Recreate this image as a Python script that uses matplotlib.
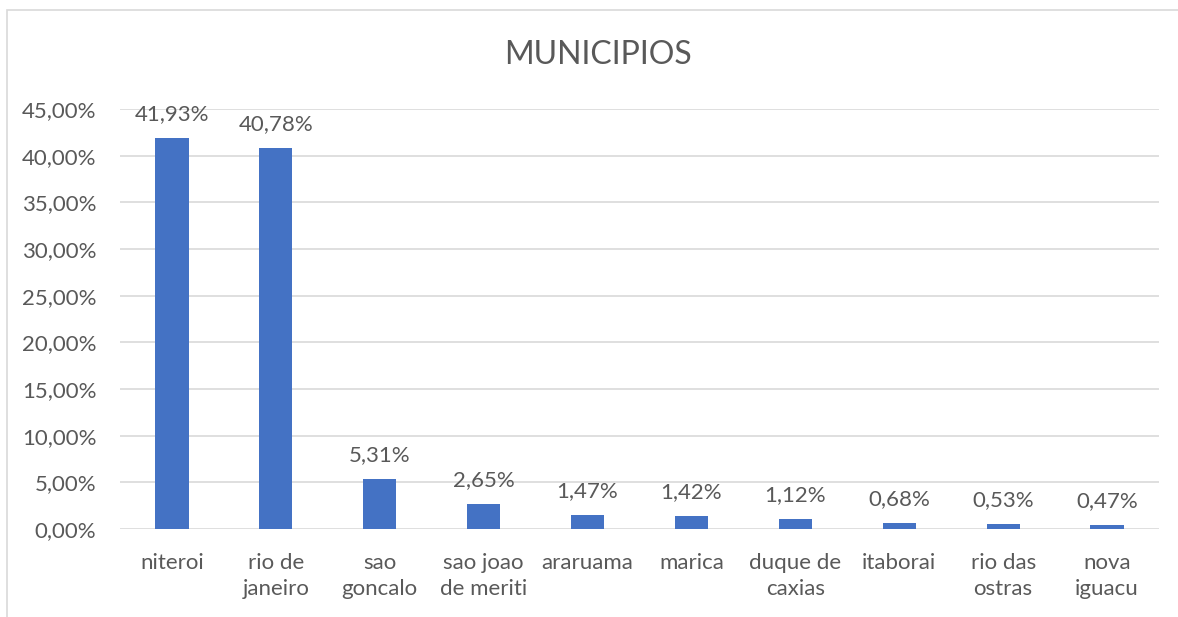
import matplotlib.pyplot as plt
from matplotlib.patches import Rectangle

plt.rcParams['font.family'] = ['Lato', 'DejaVu Sans']

municipios = ['niteroi', 'rio de\njaneiro', 'sao\ngoncalo', 'sao joao\nde meriti',
              'araruama', 'marica', 'duque de\ncaxias', 'itaborai',
              'rio das\nostras', 'nova\niguacu']
percentuais = [41.93, 40.78, 5.31, 2.65, 1.47, 1.42, 1.12, 0.68, 0.53, 0.47]
yticks = [0, 5, 10, 15, 20, 25, 30, 35, 40, 45]

TXT = '#595959'
BAR = '#4472C4'
GRID = '#D9D9D9'

fig = plt.figure(figsize=(11.78, 6.17), dpi=100)
ax = fig.add_axes([120/1178, 1 - 529/617, (1159 - 120)/1178, (529 - 109)/617])

x = range(len(municipios))
ax.bar(x, percentuais, width=0.32, color=BAR, zorder=3)

for xi, v in zip(x, percentuais):
    ax.annotate(f'{v:.2f}%'.replace('.', ','), (xi, v), xytext=(0, 10),
                textcoords='offset points', ha='center', va='bottom',
                fontsize=16, color=TXT)

ax.set_xlim(-0.5, len(municipios) - 0.5)
ax.set_ylim(0, 45)
ax.set_yticks(yticks)
ax.set_yticklabels([f'{t:.2f}%'.replace('.', ',') for t in yticks])
ax.set_xticks(list(x))
ax.set_xticklabels(municipios, linespacing=1.4)
ax.tick_params(axis='both', length=0, labelsize=16, colors=TXT)
ax.tick_params(axis='x', pad=17)
ax.tick_params(axis='y', pad=17)
ax.grid(axis='y', color=GRID, linewidth=1.2, zorder=0)
for s in ax.spines.values():
    s.set_visible(False)

fig.text(598/1178, 1 - 55/617, 'MUNICIPIOS', ha='center', va='center',
         fontsize=23, color=TXT)

# chart border
fig.patches.append(Rectangle((7/1178, -0.1), 1.2, 1 - 10/617 + 0.1,
                             transform=fig.transFigure, fill=False,
                             edgecolor='#D9D9D9', linewidth=1.2))

fig.savefig('out.png', dpi=100)
